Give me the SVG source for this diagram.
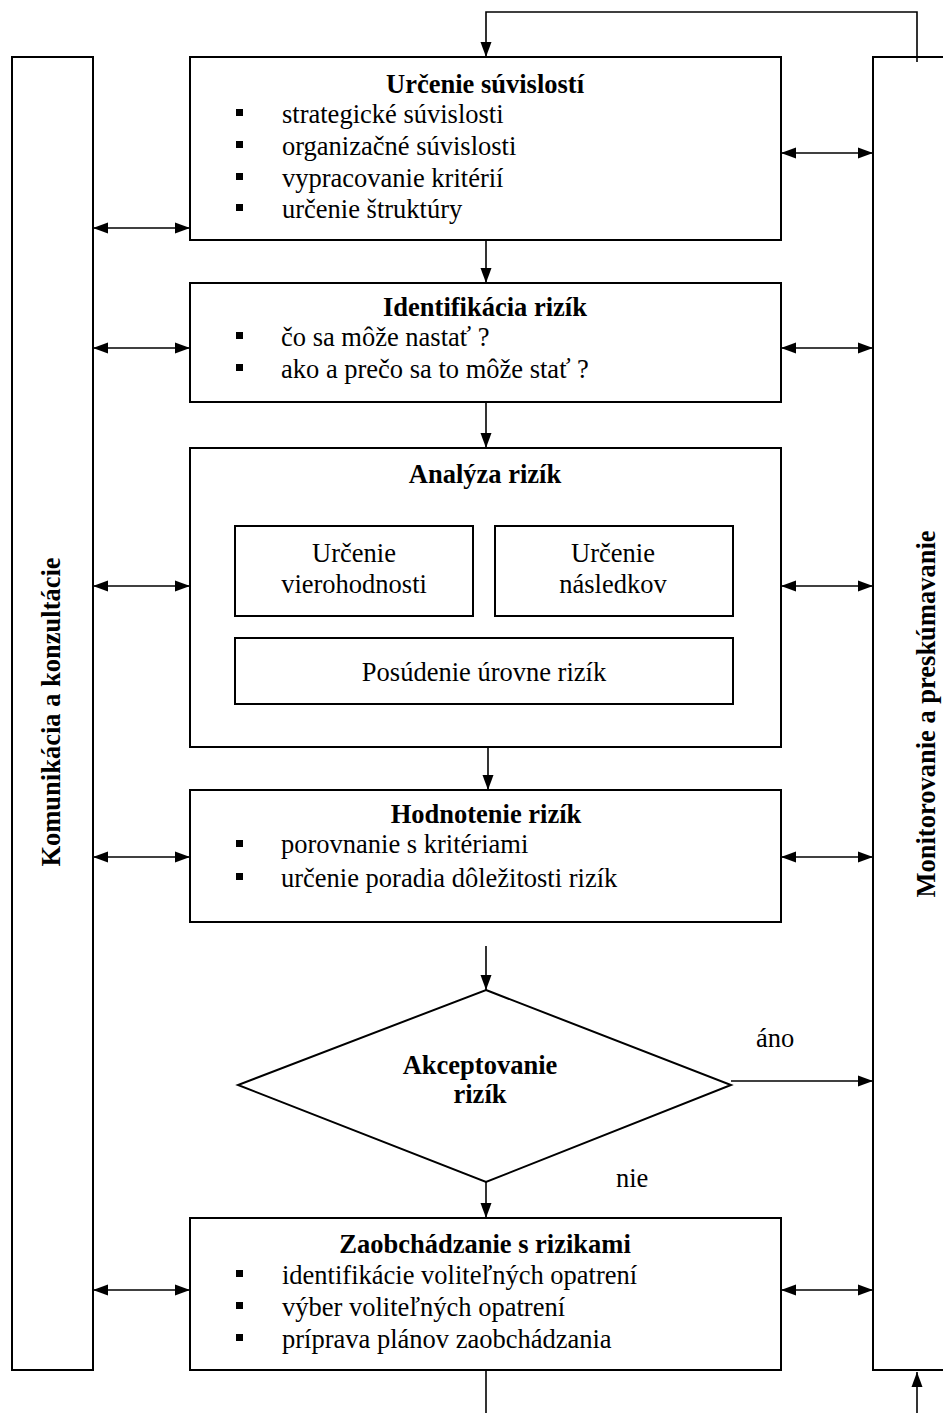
<svg xmlns="http://www.w3.org/2000/svg" width="943" height="1413" viewBox="0 0 943 1413">
<style>
.box{fill:#fff;stroke:#000;stroke-width:2}
.ln{fill:none;stroke:#000;stroke-width:1.6}
.t{font-family:"Liberation Serif","Times New Roman",serif;font-size:26.5px;fill:#000}
.b{font-weight:bold}
.c{text-anchor:middle}
.bu{fill:#000}
</style>
<defs>
<marker id="ah" markerUnits="userSpaceOnUse" markerWidth="16" markerHeight="12" refX="15" refY="6" orient="auto-start-reverse">
<path d="M0,0.5 L15,6 L0,11.5 z" fill="#000"/>
</marker>
</defs>
<rect x="0" y="0" width="943" height="1413" fill="#fff"/>

<g id="komunikacia">
<rect class="box" x="12" y="57" width="81" height="1313"/>
<text class="t b c" transform="translate(60,712) rotate(-90)">Komunikácia a konzultácie</text>
</g>

<g id="monitorovanie">
<rect class="box" x="873" y="57" width="90" height="1313"/>
<text class="t b c" transform="translate(935,714) rotate(-90)">Monitorovanie a preskúmavanie</text>
</g>

<g id="urcenie-suvislosti">
<rect class="box" x="190" y="57" width="591" height="183"/>
<text class="t b c" x="485" y="93">Určenie súvislostí</text>
<rect class="bu" x="236" y="109" width="7" height="7"/>
<text class="t" x="282" y="123">strategické súvislosti</text>
<rect class="bu" x="236" y="141" width="7" height="7"/>
<text class="t" x="282" y="155">organizačné súvislosti</text>
<rect class="bu" x="236" y="173" width="7" height="7"/>
<text class="t" x="282" y="187">vypracovanie kritérií</text>
<rect class="bu" x="236" y="204" width="7" height="7"/>
<text class="t" x="282" y="218">určenie štruktúry</text>
</g>

<g id="identifikacia-rizik">
<rect class="box" x="190" y="283" width="591" height="119"/>
<text class="t b c" x="485" y="316">Identifikácia rizík</text>
<rect class="bu" x="236" y="332" width="7" height="7"/>
<text class="t" x="281" y="346">čo sa môže nastať ?</text>
<rect class="bu" x="236" y="364" width="7" height="7"/>
<text class="t" x="281" y="378">ako a prečo sa to môže stať ?</text>
</g>

<g id="analyza-rizik">
<rect class="box" x="190" y="448" width="591" height="299"/>
<text class="t b c" x="485" y="483">Analýza rizík</text>
</g>
<g id="urcenie-vierohodnosti">
<rect class="box" x="235" y="526" width="238" height="90"/>
<text class="t c" x="354" y="562">Určenie</text>
<text class="t c" x="354" y="593">vierohodnosti</text>
</g>
<g id="urcenie-nasledkov">
<rect class="box" x="495" y="526" width="238" height="90"/>
<text class="t c" x="613" y="562">Určenie</text>
<text class="t c" x="613" y="593">následkov</text>
</g>
<g id="posudenie-urovne">
<rect class="box" x="235" y="638" width="498" height="66"/>
<text class="t c" x="484" y="681">Posúdenie úrovne rizík</text>
</g>

<g id="hodnotenie-rizik">
<rect class="box" x="190" y="790" width="591" height="132"/>
<text class="t b c" x="486" y="823">Hodnotenie rizík</text>
<rect class="bu" x="236" y="840" width="7" height="7"/>
<text class="t" x="281" y="853">porovnanie s kritériami</text>
<rect class="bu" x="236" y="873" width="7" height="7"/>
<text class="t" x="281" y="887">určenie poradia dôležitosti rizík</text>
</g>

<g id="akceptovanie-rizik">
<polygon class="box" points="486,990 731,1085 486,1182 238,1085"/>
<text class="t b c" x="480" y="1074">Akceptovanie</text>
<text class="t b c" x="480" y="1103">rizík</text>
</g>

<g id="zaobchadzanie">
<rect class="box" x="190" y="1218" width="591" height="152"/>
<text class="t b c" x="485" y="1253">Zaobchádzanie s rizikami</text>
<rect class="bu" x="236" y="1270" width="7" height="7"/>
<text class="t" x="282" y="1284">identifikácie voliteľných opatrení</text>
<rect class="bu" x="236" y="1302" width="7" height="7"/>
<text class="t" x="282" y="1316">výber voliteľných opatrení</text>
<rect class="bu" x="236" y="1334" width="7" height="7"/>
<text class="t" x="282" y="1348">príprava plánov zaobchádzania</text>
</g>

<g id="connectors">
<polyline class="ln" points="917,62 917,12 486,12 486,57" marker-end="url(#ah)"/>
<line class="ln" x1="486" y1="240" x2="486" y2="283" marker-end="url(#ah)"/>
<line class="ln" x1="486" y1="402" x2="486" y2="448" marker-end="url(#ah)"/>
<line class="ln" x1="488" y1="747" x2="488" y2="790" marker-end="url(#ah)"/>
<line class="ln" x1="486" y1="946" x2="486" y2="990" marker-end="url(#ah)"/>
<line class="ln" x1="486" y1="1182" x2="486" y2="1218" marker-end="url(#ah)"/>
<line class="ln" x1="731" y1="1081" x2="873" y2="1081" marker-end="url(#ah)"/>
<line class="ln" x1="486" y1="1370" x2="486" y2="1413"/>
<line class="ln" x1="917" y1="1413" x2="917" y2="1372" marker-end="url(#ah)"/>

<line class="ln" x1="93" y1="228" x2="190" y2="228" marker-start="url(#ah)" marker-end="url(#ah)"/>
<line class="ln" x1="93" y1="348" x2="190" y2="348" marker-start="url(#ah)" marker-end="url(#ah)"/>
<line class="ln" x1="93" y1="586" x2="190" y2="586" marker-start="url(#ah)" marker-end="url(#ah)"/>
<line class="ln" x1="93" y1="857" x2="190" y2="857" marker-start="url(#ah)" marker-end="url(#ah)"/>
<line class="ln" x1="93" y1="1290" x2="190" y2="1290" marker-start="url(#ah)" marker-end="url(#ah)"/>

<line class="ln" x1="781" y1="153" x2="873" y2="153" marker-start="url(#ah)" marker-end="url(#ah)"/>
<line class="ln" x1="781" y1="348" x2="873" y2="348" marker-start="url(#ah)" marker-end="url(#ah)"/>
<line class="ln" x1="781" y1="586" x2="873" y2="586" marker-start="url(#ah)" marker-end="url(#ah)"/>
<line class="ln" x1="781" y1="857" x2="873" y2="857" marker-start="url(#ah)" marker-end="url(#ah)"/>
<line class="ln" x1="781" y1="1290" x2="873" y2="1290" marker-start="url(#ah)" marker-end="url(#ah)"/>

<text class="t" x="756" y="1047">áno</text>
<text class="t" x="616" y="1187">nie</text>
</g>
</svg>
